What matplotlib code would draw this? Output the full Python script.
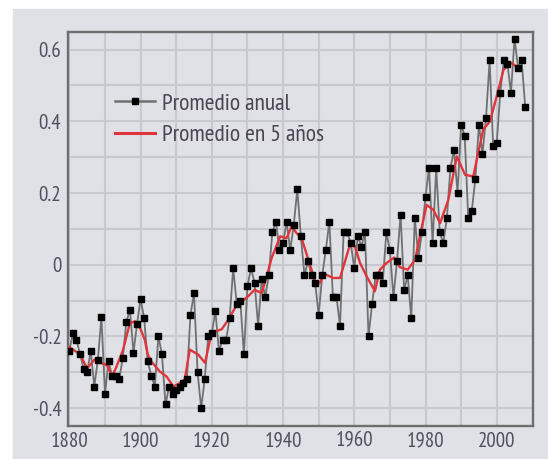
import matplotlib
matplotlib.use('Agg')
import matplotlib.pyplot as plt
from matplotlib.patches import Rectangle

# annual global temperature anomaly (deg C)
years = list(range(1880, 2009))
annual = [
    -0.24, -0.19, -0.21, -0.25, -0.29, -0.30, -0.24, -0.34, -0.265, -0.146,
    -0.36, -0.27, -0.31, -0.31, -0.32, -0.26, -0.16, -0.125, -0.245, -0.165,
    -0.095, -0.15, -0.27, -0.31, -0.34, -0.20, -0.25, -0.39, -0.34, -0.36,
    -0.35, -0.34, -0.33, -0.32, -0.14, -0.08, -0.30, -0.40, -0.32, -0.20,
    -0.19, -0.13, -0.24, -0.21, -0.21, -0.15, -0.01, -0.11, -0.10, -0.25,
    -0.06, -0.01, -0.05, -0.17, -0.04, -0.09, -0.03, 0.09, 0.12, 0.04,
    0.06, 0.12, 0.04, 0.11, 0.21, 0.08, -0.03, 0.01, -0.03, -0.05,
    -0.14, -0.03, 0.04, 0.12, -0.09, -0.09, -0.17, 0.09, 0.09, 0.06,
    -0.01, 0.08, 0.05, 0.09, -0.20, -0.11, -0.03, -0.03, -0.05, 0.09,
    0.04, -0.09, 0.01, 0.14, -0.07, -0.03, -0.15, 0.13, 0.02, 0.09,
    0.19, 0.27, 0.06, 0.27, 0.09, 0.06, 0.13, 0.27, 0.32, 0.20,
    0.39, 0.36, 0.13, 0.15, 0.24, 0.39, 0.31, 0.41, 0.57, 0.33,
    0.34, 0.48, 0.57, 0.56, 0.48, 0.63, 0.55, 0.57, 0.44,
]

# 5-year mean line, vertices
five_years = [1880, 1883, 1885, 1887, 1889, 1890.5, 1892, 1893, 1895, 1897,
              1898.4, 1900, 1901.2, 1902, 1903, 1905.4, 1907.3, 1909.2, 1911, 1912.4,
              1913.8, 1916.2, 1918.1, 1919.9, 1922.8, 1924.6, 1926.5, 1928, 1930, 1932,
              1934, 1935.4, 1936.8, 1939.2, 1941, 1942.4, 1943.8, 1945.2, 1947.1, 1949,
              1950.4, 1951.5, 1954, 1956, 1958.8, 1960.2, 1961.6, 1963.5, 1965.8, 1967.2,
              1969.1, 1971.2, 1972.8, 1975, 1977.1, 1978.9, 1980.3, 1982.2, 1984.1, 1986.4,
              1988.8, 1991.1, 1993.4, 1996.2, 1998.1, 2000, 2001.9, 2004.2, 2006.5]
five_mean = [-0.23, -0.25, -0.29, -0.265, -0.275, -0.28, -0.31, -0.29, -0.24, -0.163,
             -0.158, -0.18, -0.21, -0.25, -0.27, -0.298, -0.312, -0.34, -0.33, -0.32,
             -0.237, -0.251, -0.274, -0.19, -0.18, -0.154, -0.121, -0.105, -0.09, -0.07,
             -0.079, -0.033, 0.019, 0.079, 0.074, 0.107, 0.088, 0.074, 0.014, -0.045,
             -0.05, -0.025, -0.037, -0.037, 0.056, 0.051, 0.005, -0.033, -0.074, -0.014,
             0.005, 0.02, -0.007, -0.014, 0.014, 0.102, 0.167, 0.153, 0.116, 0.181,
             0.302, 0.251, 0.246, 0.377, 0.40, 0.47, 0.544, 0.563, 0.544]

xticks = [1880, 1900, 1920, 1940, 1960, 1980, 2000]
yticks = [-0.4, -0.2, 0, 0.2, 0.4, 0.6]
ytick_labels = ['-0.4', '-0.2', '0', '0.2', '0.4', '0.6']
labels = ['Promedio anual', 'Promedio en 5 años']

fonts = ['PT Sans Narrow', 'Roboto Condensed', 'Archivo Narrow', 'DejaVu Sans']
bg = '#dfe1e6'
txt = '#4f4f5e'

fig = plt.figure(figsize=(5.48, 4.59), dpi=100)
fig.patch.set_facecolor('white')
fig.add_artist(Rectangle((13 / 548, 0), 1 - 13 / 548, 1 - 9 / 459,
                         transform=fig.transFigure, color=bg, zorder=0))

ax = fig.add_axes([68.3 / 548, 1 - 426 / 459, 464.4 / 548, 394.3 / 459])
ax.set_facecolor(bg)

ax.plot(years, annual, color='#707070', lw=1.3, zorder=3)
ax.plot(five_years, five_mean, color='#e0353a', lw=1.7, zorder=4)
ax.plot(years, annual, ls='none', marker='s', ms=3.8, color='black', zorder=5)

ax.set_xlim(1879.7, 2010.1)
ax.set_ylim(-0.45, 0.65)
ax.set_xticks(xticks)
ax.set_xticks(range(1890, 2010, 20), minor=True)
ax.set_yticks(yticks)
ax.set_yticklabels(ytick_labels)
ax.set_yticks([-0.3, -0.1, 0.1, 0.3, 0.5], minor=True)
ax.grid(which='both', color='#c8c9ce', lw=1.5)
ax.set_axisbelow(True)
ax.tick_params(which='both', length=0, colors=txt, labelsize=15)
ax.tick_params(axis='y', pad=5)
ax.tick_params(axis='x', pad=4)
for lab in ax.get_xticklabels() + ax.get_yticklabels():
    lab.set_family(fonts)
for s in ax.spines.values():
    s.set_color('#6e6e70')
    s.set_linewidth(1.7)

# legend handles
h1, = ax.plot([], [], color='#707070', lw=1.8, marker='s', ms=4.2,
              mfc='black', mec='black')
h2, = ax.plot([], [], color='#e0353a', lw=2.2)
leg = ax.legend([h1, h2], labels, loc='upper left',
                bbox_to_anchor=((115 - 68.3) / 464.4, 1 - (93 - 31.7) / 394.3),
                frameon=False, numpoints=1, handlelength=1.7, handletextpad=0.3,
                labelspacing=0.42, borderpad=0, borderaxespad=0,
                prop={'family': fonts, 'size': 17})
for t in leg.get_texts():
    t.set_color('#4a4550')

fig.savefig('out.png', dpi=100)
